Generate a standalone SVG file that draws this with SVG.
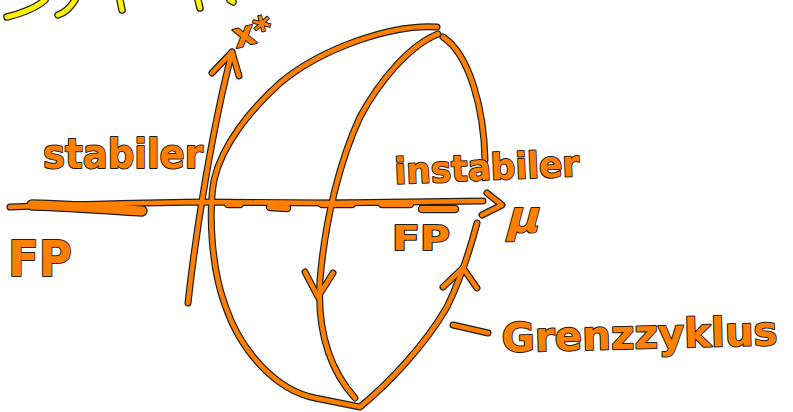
<svg xmlns="http://www.w3.org/2000/svg" xmlns:xlink="http://www.w3.org/1999/xlink" width="793" height="412" viewBox="0 0 793 412">
<style>
.o{fill:none;stroke:#1e1e1e;stroke-width:7;stroke-linecap:round;stroke-linejoin:round}
.i{fill:none;stroke:#ff8000;stroke-width:4.6;stroke-linecap:round;stroke-linejoin:round}
.yo{fill:none;stroke:#1e1e1e;stroke-width:7.5;stroke-linecap:round;stroke-linejoin:round}
.yi{fill:none;stroke:#fff200;stroke-width:5;stroke-linecap:round;stroke-linejoin:round}
.t{font-family:"DejaVu Sans","Liberation Sans",sans-serif;font-weight:bold;fill:#ff8000;stroke:#1e1e1e;stroke-width:2;stroke-linejoin:round;paint-order:stroke}
</style>
<defs>
<path id="axh" d="M10,207 C60,205 140,203 200,202 L330,203 L483,201"/>
<path id="blob" d="M32,205 C70,206 110,209 142,211"/>
<path id="d1" d="M228,204 L240,204 M270,207 L287,208 M322,204 L352,204 M382,204 L410,204 M422,209 L455,209"/>
<path id="ahh" d="M487,193 L502,205 L482,215"/>
<path id="axv" d="M188,303 C196,230 212,130 232,52"/>
<path id="ahv" d="M212,73 L232,52 L239,76"/>
<path id="outer" d="M437,27 C392,24 322,48 280,83 C250,110 222,145 214,180 C208,215 212,270 225,305 C240,350 275,390 315,398 L360,407 C390,382 425,345 447,307 C460,280 470,250 477,223"/>
<path id="inner" d="M438,34 C410,45 380,80 360,117 C340,160 325,220 320,280 C317,330 330,370 355,398"/>
<path id="ahi" d="M305,272 L318,297 L333,273"/>
<path id="rtop" d="M443,37 C470,55 484,110 485,160"/>
<path id="ahr" d="M443,287 L463,268 L477,288"/>
<path id="lead" d="M453,325 L488,333"/>
<path id="yel" d="M7,17 C23,13 37,7 45,0 M58,15 C67,12 72,5 75,0 M120,0 L122,10 M198,0 L200,8 M230,0 L233,2"/>
</defs>
<g id="title">
<use href="#yel" class="yo"/><use href="#yel" class="yi"/>
</g>
<g id="connectors">
<use href="#axh" class="o"/><use href="#blob" class="o" style="stroke-width:11.5"/><use href="#d1" class="o" style="stroke-width:8.5"/><use href="#ahh" class="o"/>
<use href="#axv" class="o"/><use href="#ahv" class="o"/>
<use href="#outer" class="o"/><use href="#inner" class="o"/><use href="#ahi" class="o"/>
<use href="#rtop" class="o"/><use href="#ahr" class="o"/><use href="#lead" class="o"/>
<use href="#axh" class="i"/><use href="#blob" class="i" style="stroke-width:9"/><use href="#d1" class="i" style="stroke-width:6"/><use href="#ahh" class="i"/>
<use href="#axv" class="i"/><use href="#ahv" class="i"/>
<use href="#outer" class="i"/><use href="#inner" class="i"/><use href="#ahi" class="i"/>
<use href="#rtop" class="i"/><use href="#ahr" class="i"/><use href="#lead" class="i"/>
</g>
<g id="label-xstar"><text class="t" x="232" y="44" font-size="34" transform="rotate(-15 250 30)">x*</text></g>
<g id="label-stabiler"><text class="t" x="43" y="168" font-size="40" textLength="160" lengthAdjust="spacingAndGlyphs">stabiler</text></g>
<g id="label-fp-left"><text class="t" x="8" y="276" font-size="50" textLength="64" lengthAdjust="spacingAndGlyphs">FP</text></g>
<g id="label-instabiler"><text class="t" x="395" y="184" font-size="36" textLength="185" lengthAdjust="spacingAndGlyphs" transform="rotate(-2.5 395 184)">instabiler</text></g>
<g id="label-fp-right"><text class="t" x="392" y="250" font-size="34" textLength="58" lengthAdjust="spacingAndGlyphs">FP</text></g>
<g id="label-mu"><text class="t" x="512" y="232" font-size="44" transform="skewX(-15)" dx="55">μ</text></g>
<g id="label-grenzzyklus"><text class="t" x="502" y="352" font-size="40" textLength="276" lengthAdjust="spacingAndGlyphs" transform="rotate(-1.5 502 352)">Grenzzyklus</text></g>
</svg>
